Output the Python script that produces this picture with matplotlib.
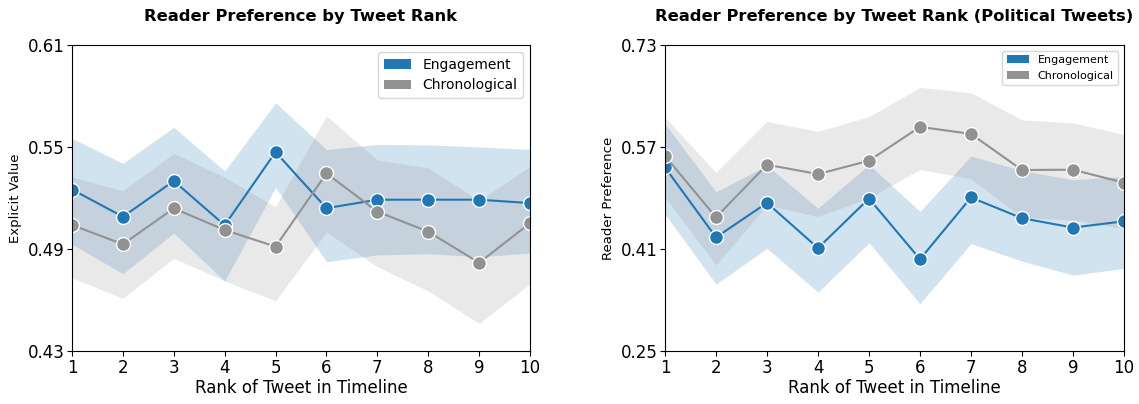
import matplotlib
matplotlib.use("Agg")
import matplotlib.pyplot as plt
from matplotlib.patches import Patch
import numpy as np

ranks = [1, 2, 3, 4, 5, 6, 7, 8, 9, 10]
series_names = ["Engagement", "Chronological"]

# Left panel: Explicit Value
eng_mean_l = [0.525, 0.509, 0.530, 0.504, 0.547, 0.514, 0.519, 0.519, 0.519, 0.517]
eng_lo_l = [0.4928, 0.4755, 0.4994, 0.4712, 0.5262, 0.4825, 0.4865, 0.4872, 0.4855, 0.4876]
eng_hi_l = [0.5551, 0.5404, 0.5616, 0.5359, 0.5760, 0.5485, 0.5515, 0.5512, 0.5500, 0.5486]
chr_mean_l = [0.5041, 0.4928, 0.5139, 0.5012, 0.4914, 0.5345, 0.5120, 0.5002, 0.4819, 0.5052]
chr_lo_l = [0.4730, 0.4610, 0.4846, 0.4712, 0.4596, 0.5000, 0.4796, 0.4653, 0.4463, 0.4695]
chr_hi_l = [0.5323, 0.5243, 0.5463, 0.5322, 0.5148, 0.5682, 0.5424, 0.5378, 0.5185, 0.5386]

# Right panel: Reader Preference (political tweets)
eng_mean_r = [0.538, 0.4283, 0.4824, 0.4115, 0.4892, 0.394, 0.4908, 0.4583, 0.4436, 0.4535]
eng_lo_r = [0.4648, 0.355, 0.411, 0.3423, 0.4197, 0.324, 0.4185, 0.391, 0.369, 0.3796]
eng_hi_r = [0.6065, 0.4997, 0.541, 0.474, 0.5423, 0.4688, 0.5558, 0.533, 0.5186, 0.5239]
chr_mean_r = [0.5558, 0.4598, 0.5422, 0.5275, 0.5485, 0.6016, 0.5905, 0.5339, 0.5344, 0.514]
chr_lo_r = [0.491, 0.3849, 0.4788, 0.461, 0.490, 0.5348, 0.520, 0.4596, 0.4556, 0.442]
chr_hi_r = [0.6165, 0.530, 0.610, 0.5944, 0.6178, 0.6634, 0.655, 0.6125, 0.6079, 0.5895]

yticks_l = [0.43, 0.49, 0.55, 0.61]
yticks_r = [0.25, 0.41, 0.57, 0.73]

titles = ["Reader Preference by Tweet Rank", "Reader Preference by Tweet Rank (Political Tweets)"]
ylabels = ["Explicit Value", "Reader Preference"]
xlabel = "Rank of Tweet in Timeline"

colors = ["#1f77b4", "#929292"]

fig = plt.figure(figsize=(11.39, 4.04), dpi=100)
ax1 = fig.add_axes([72/1139, 1-351/404, (530-72)/1139, (351-45)/404])
ax2 = fig.add_axes([665/1139, 1-351/404, (1124-665)/1139, (351-45)/404])

panels = [
    (ax1, [(eng_mean_l, eng_lo_l, eng_hi_l), (chr_mean_l, chr_lo_l, chr_hi_l)], yticks_l, 10),
    (ax2, [(eng_mean_r, eng_lo_r, eng_hi_r), (chr_mean_r, chr_lo_r, chr_hi_r)], yticks_r, 8),
]

for i, (ax, data, yt, legfs) in enumerate(panels):
    for (m, lo, hi), c in zip(data, colors):
        ax.fill_between(ranks, lo, hi, color=c, alpha=0.2, linewidth=0)
    for (m, lo, hi), c in zip(data, colors):
        ax.plot(ranks, m, color=c, linewidth=1.5, marker="o", markersize=10,
                markeredgecolor="white", markeredgewidth=1)
    ax.set_xlim(1, 10)
    ax.set_ylim(yt[0], yt[-1])
    ax.set_xticks(ranks)
    ax.set_yticks(yt)
    ax.set_yticklabels([f"{v:.2f}" for v in yt])
    ax.tick_params(labelsize=12, pad=2)
    ax.set_xlabel(xlabel, fontsize=12, labelpad=2)
    ax.set_ylabel(ylabels[i], fontsize=9.5)
    ax.set_title(titles[i], fontsize=11.8, fontweight="bold", pad=17)
    handles = [Patch(facecolor=c, label=n) for c, n in zip(colors, series_names)]
    ax.legend(handles=handles, loc="upper right", fontsize=legfs)

fig.savefig("out.png", dpi=100)
